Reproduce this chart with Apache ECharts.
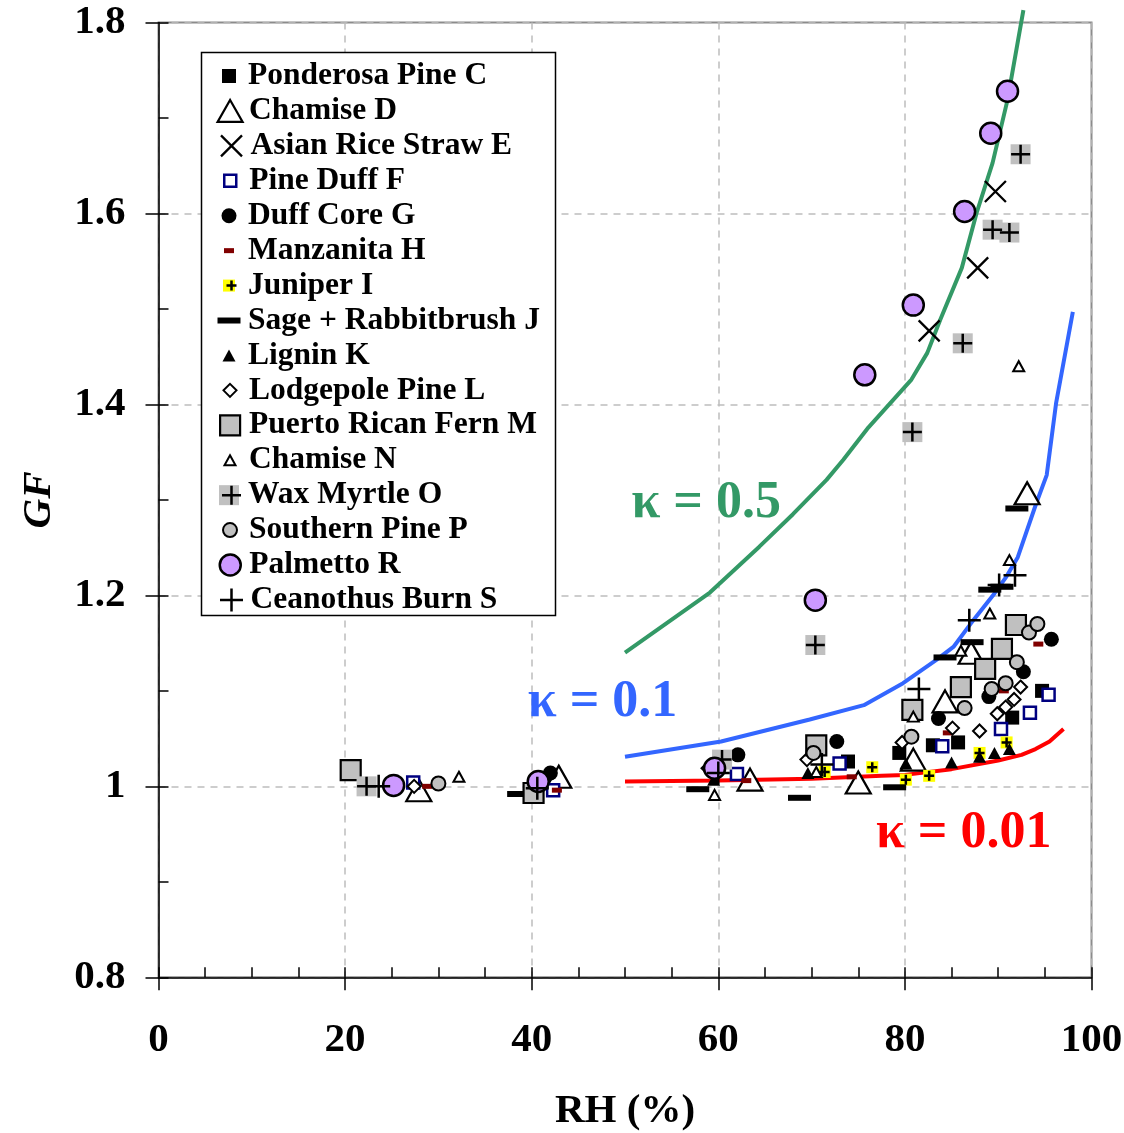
<!DOCTYPE html>
<html>
<head>
<meta charset="utf-8">
<title>Growth factor vs RH</title>
<script src="https://cdn.jsdelivr.net/npm/echarts@6/dist/echarts.min.js"></script>
<style>
  html, body { margin: 0; padding: 0; background: #fff; }
  #chart { width: 1124px; height: 1133px; }
</style>
</head>
<body>
<div id="chart"></div>
<script>
// Hygroscopic growth factor (GF) of biomass-burning particles against relative humidity (RH).
// Each sample is [RH %, GF].

const ponderosaPineC = [[73.9, 1.026], [79.4, 1.035], [83.0, 1.043], [85.7, 1.046], [91.5, 1.072], [94.7, 1.100]];
const chamiseD = [[27.9, 0.996], [42.9, 1.010], [63.4, 1.007], [75.0, 1.004], [80.9, 1.028], [84.3, 1.089], [87.1, 1.140], [93.1, 1.307]];
const asianRiceStrawE = [[82.6, 1.477], [87.8, 1.543], [89.7, 1.623]];
const pineDuffF = [[27.3, 1.004], [42.3, 0.996], [62.0, 1.013], [73.0, 1.024], [84.0, 1.042], [90.3, 1.060], [93.4, 1.077], [95.4, 1.096]];
const duffCoreG = [[42.0, 1.014], [62.1, 1.033], [72.7, 1.047], [83.6, 1.071], [89.0, 1.094], [92.7, 1.120], [95.7, 1.154]];
const manzanitaH = [[28.8, 1.000], [42.7, 0.996], [63.0, 1.006], [74.3, 1.010], [84.6, 1.056], [90.6, 1.100], [94.3, 1.149]];
const juniperI = [[71.4, 1.015], [76.5, 1.020], [80.1, 1.007], [82.6, 1.011], [88.0, 1.035], [90.9, 1.046]];
const sageRabbitbrushJ = [[38.6, 0.992], [57.8, 0.997], [68.7, 0.988], [78.9, 0.999], [84.3, 1.135], [87.2, 1.151], [89.1, 1.206], [90.4, 1.209], [92.0, 1.291]];
const ligninK = [[59.5, 1.007], [69.6, 1.014], [80.1, 1.024], [85.0, 1.025], [88.0, 1.031], [89.6, 1.035], [91.2, 1.039]];
const lodgepolePineL = [[27.4, 1.000], [58.9, 1.019], [69.5, 1.028], [79.7, 1.046], [85.1, 1.061], [88.0, 1.058], [89.9, 1.076], [90.8, 1.083], [91.7, 1.091], [92.4, 1.104]];
const puertoRicanFernM = [[20.6, 1.017], [40.2, 0.993], [70.5, 1.043], [80.8, 1.080], [86.0, 1.104], [88.6, 1.123], [90.4, 1.144], [91.9, 1.169]];
const chamiseN = [[32.2, 1.010], [59.6, 0.991], [70.5, 1.015], [80.9, 1.073], [86.0, 1.142], [89.1, 1.181], [91.2, 1.237], [92.2, 1.440]];
const waxMyrtleO = [[22.3, 1.000], [60.4, 1.028], [70.4, 1.148], [80.8, 1.371], [86.2, 1.464], [89.4, 1.583], [91.2, 1.580], [92.4, 1.662]];
const southernPineP = [[30.0, 1.003], [70.2, 1.035], [80.7, 1.052], [86.4, 1.082], [89.3, 1.102], [90.8, 1.108], [92.0, 1.130], [93.3, 1.161], [94.2, 1.170]];
const palmettoR = [[25.2, 1.001], [40.7, 1.005], [59.6, 1.019], [70.4, 1.195], [75.7, 1.431], [80.9, 1.504], [86.4, 1.602], [89.2, 1.684], [91.0, 1.728]];
const ceanothusBurnS = [[23.6, 1.000], [40.6, 0.998], [60.0, 1.014], [71.1, 1.023], [81.5, 1.102], [86.9, 1.174], [90.1, 1.211], [91.8, 1.221]];

// Single-parameter kappa growth curves
const kappa05 = [[50, 1.140], [59.1, 1.203], [64.4, 1.251], [68.0, 1.285], [71.6, 1.321], [73.4, 1.342], [76.1, 1.376], [80.7, 1.426], [82.4, 1.454], [83.8, 1.489], [86.1, 1.543], [87.7, 1.601], [89.4, 1.653], [91.0, 1.719], [92.7, 1.813]];
const kappa01 = [[50, 1.031], [60.3, 1.047], [69.8, 1.070], [75.6, 1.085], [79.8, 1.108], [83.3, 1.132], [85.2, 1.146], [87.1, 1.171], [89.6, 1.202], [90.9, 1.220], [92.1, 1.240], [94.1, 1.297], [95.2, 1.326], [96.2, 1.401], [98.0, 1.497]];
const kappa001 = [[50, 1.005], [60, 1.006], [70, 1.008], [77.5, 1.011], [80, 1.012], [85, 1.018], [90, 1.027], [92.5, 1.033], [94, 1.039], [95.5, 1.047], [97, 1.060]];

// Curve label anchors [RH, GF] and texts
const kappaLabels = ['κ = 0.5', 'κ = 0.1', 'κ = 0.01'];
const kappaLabelAt = [[58.7, 1.296], [47.6, 1.088], [86.3, 0.951]];

const FONT = '"Liberation Serif", "Times New Roman", serif';
const PLUS = 'path://M5,0L5,10M0,5L10,5';
const CROSS = 'path://M0,0L10,10M10,0L0,10';

const lineMark = { color: 'none', borderColor: '#000', borderWidth: 2.5, opacity: 1 };

const markers = [
  { name: 'Ponderosa Pine C', data: ponderosaPineC, symbol: 'rect', size: 14, style: { color: '#000' } },
  { name: 'Chamise D', data: chamiseD, symbol: 'triangle', size: [25, 22], style: { color: '#fff', borderColor: '#000', borderWidth: 2.2 } },
  { name: 'Asian Rice Straw E', data: asianRiceStrawE, symbol: CROSS, size: 21, style: { color: 'none', borderColor: '#000', borderWidth: 2.3 } },
  { name: 'Pine Duff F', data: pineDuffF, symbol: 'rect', size: 12, style: { color: '#fff', borderColor: '#000080', borderWidth: 2.5 } },
  { name: 'Duff Core G', data: duffCoreG, symbol: 'circle', size: 15, style: { color: '#000' } },
  { name: 'Manzanita H', data: manzanitaH, symbol: 'rect', size: [10, 5], style: { color: '#800000' } },
  { name: 'Juniper I', data: juniperI, symbol: 'rect', size: 12, style: { color: '#ffff00' },
    overlay: { symbol: PLUS, size: 10, style: lineMark } },
  { name: 'Sage + Rabbitbrush J', data: sageRabbitbrushJ, symbol: 'rect', size: [23, 6], style: { color: '#000' } },
  { name: 'Lignin K', data: ligninK, symbol: 'triangle', size: [13, 12], style: { color: '#000' } },
  { name: 'Lodgepole Pine L', data: lodgepolePineL, symbol: 'diamond', size: 13, style: { color: '#fff', borderColor: '#000', borderWidth: 2 } },
  { name: 'Puerto Rican Fern M', data: puertoRicanFernM, symbol: 'rect', size: 20, style: { color: '#c0c0c0', borderColor: '#000', borderWidth: 2.2 } },
  { name: 'Chamise N', data: chamiseN, symbol: 'triangle', size: [11, 10], style: { color: '#fff', borderColor: '#000', borderWidth: 2 } },
  { name: 'Wax Myrtle O', data: waxMyrtleO, symbol: 'rect', size: 20, style: { color: '#c0c0c0' },
    overlay: { symbol: PLUS, size: 19, style: lineMark } },
  { name: 'Southern Pine P', data: southernPineP, symbol: 'circle', size: 14, style: { color: '#c0c0c0', borderColor: '#000', borderWidth: 2 } },
  { name: 'Palmetto R', data: palmettoR, symbol: 'circle', size: 21, style: { color: '#cc99ff', borderColor: '#000', borderWidth: 2.5 } },
  { name: 'Ceanothus Burn S', data: ceanothusBurnS, symbol: PLUS, size: 23, style: lineMark }
];

const dims = s => Array.isArray(s) ? s : [s, s];
const solid = st => Object.assign({ opacity: 1 }, st);

// Scatter series (an overlay series follows its base so it is drawn on top of it)
const series = [];
markers.forEach(m => {
  series.push({
    type: 'scatter', name: m.name, data: m.data, symbol: m.symbol, symbolSize: m.size,
    symbolKeepAspect: false, itemStyle: solid(m.style), z: 3, silent: true
  });
  if (m.overlay) {
    series.push({
      type: 'scatter', name: m.name + ' +', data: m.data, symbol: m.overlay.symbol, symbolSize: m.overlay.size,
      itemStyle: solid(m.overlay.style), z: 3, silent: true
    });
  }
});

// Kappa curves with their labels
const curveColors = ['#339966', '#3366ff', '#ff0000'];
[kappa05, kappa01, kappa001].forEach((d, i) => {
  series.push({
    type: 'line', name: kappaLabels[i], data: d, showSymbol: false, symbol: 'none', clip: false,
    lineStyle: { color: curveColors[i], width: 4 }, z: 2, silent: true,
    markPoint: {
      symbol: 'circle', symbolSize: 1, silent: true,
      itemStyle: { color: 'rgba(0,0,0,0)' },
      label: {
        show: true, position: 'inside', formatter: kappaLabels[i],
        fontFamily: FONT, fontWeight: 'bold', fontSize: 52, color: curveColors[i]
      },
      data: [{ coord: kappaLabelAt[i] }]
    }
  });
});

// One legend block per row so every icon keeps its own size
const rowTop = 74, rowStep = 34.93, iconCx = 229, textX = 248;
const legendText = { fontFamily: FONT, fontWeight: 'bold', fontSize: 31.5, lineHeight: 34, color: '#000' };
const legends = [];
markers.forEach((m, i) => {
  const cy = rowTop + i * rowStep;
  const entry = (name, size, color, z) => {
    const [w, h] = dims(size);
    return {
      data: [name], orient: 'horizontal', padding: 0, selectedMode: false, z: z,
      itemWidth: w, itemHeight: h, left: iconCx - w / 2, top: cy - 15,
      itemStyle: { borderWidth: 'inherit', opacity: 1 },
      formatter: () => m.name,
      textStyle: Object.assign({}, legendText, { color: color, padding: [0, 0, 0, textX - (iconCx + w / 2 + 5)] })
    };
  };
  legends.push(entry(m.name, m.size, '#000', 20));
  if (m.overlay) legends.push(entry(m.name + ' +', m.overlay.size, 'rgba(0,0,0,0)', 21));
});

const axisFont = { fontFamily: FONT, fontWeight: 'bold', fontSize: 41, color: '#000' };
const gridDash = { color: '#bdbdbd', type: [7, 6], width: 1.5 };

const option = {
  animation: false,
  backgroundColor: '#fff',
  grid: {
    left: 158.5, right: 32.5, top: 22.5, bottom: 155.7,
    outerBoundsMode: 'none', containLabel: false,
    show: true, borderColor: '#8c8c8c', borderWidth: 2, backgroundColor: 'transparent'
  },
  legend: legends,
  graphic: [{
    type: 'rect', z: 15,
    shape: { x: 201.5, y: 52.5, width: 354, height: 563 },
    style: { fill: '#fff', stroke: '#000', lineWidth: 1.5 }
  }],
  xAxis: [{
    type: 'value', min: 0, max: 100, interval: 20, position: 'bottom',
    axisLine: { show: true, onZero: false, lineStyle: { color: '#000', width: 1.5 } },
    axisTick: { show: true, inside: false, length: 13, lineStyle: { color: '#000', width: 1.5 } },
    axisLabel: Object.assign({ margin: 43 }, axisFont),
    splitLine: { show: true, lineStyle: gridDash },
    name: 'RH (%)', nameLocation: 'middle', nameGap: 114, nameTextStyle: axisFont
  }, {
    type: 'value', min: 0, max: 100, interval: 5, position: 'bottom',
    axisLine: { show: false }, axisLabel: { show: false }, splitLine: { show: false },
    axisTick: { show: true, inside: true, length: 10, lineStyle: { color: '#000', width: 1.5 } }
  }],
  yAxis: [{
    type: 'value', min: 0.8, max: 1.8, interval: 0.2, position: 'left',
    axisLine: { show: true, onZero: false, lineStyle: { color: '#000', width: 1.5 } },
    axisTick: { show: true, inside: false, length: 13, lineStyle: { color: '#000', width: 1.5 } },
    axisLabel: Object.assign({ margin: 33 }, axisFont),
    splitLine: { show: true, lineStyle: gridDash },
    name: 'GF', nameLocation: 'middle', nameGap: 99,
    nameTextStyle: Object.assign({}, axisFont, { fontStyle: 'italic' })
  }, {
    type: 'value', min: 0.8, max: 1.8, interval: 0.1, position: 'left',
    axisLine: { show: false }, axisLabel: { show: false }, splitLine: { show: false },
    axisTick: { show: true, inside: true, length: 10, lineStyle: { color: '#000', width: 1.5 } }
  }],
  series: series
};

const chart = echarts.init(document.getElementById('chart'), null, { renderer: 'canvas' });
chart.setOption(option);
</script>
</body>
</html>
